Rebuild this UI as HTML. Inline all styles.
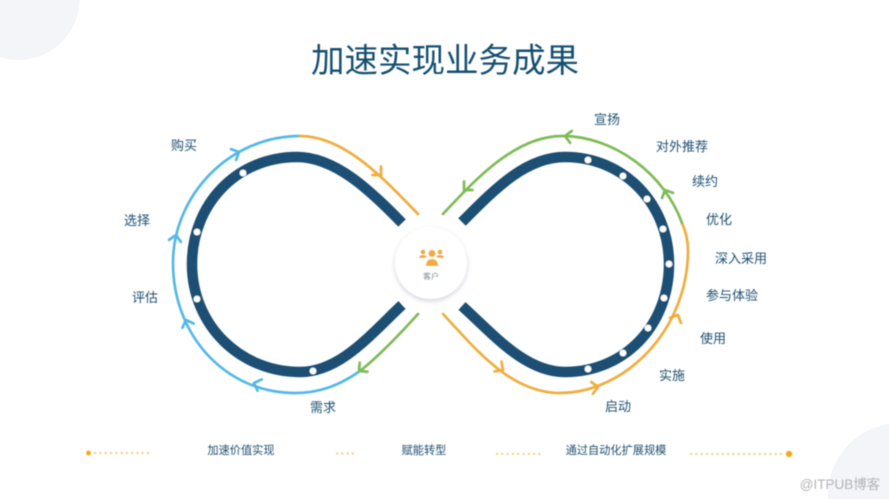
<!DOCTYPE html>
<html><head><meta charset="utf-8">
<style>
html,body{margin:0;padding:0;background:#fff;width:889px;height:499px;overflow:hidden}
svg{display:block;overflow:hidden}
text{font-family:"Liberation Sans","Noto Sans CJK SC",sans-serif;text-anchor:middle}
.l{font-size:13px;fill:#1f4f70}
.b{font-size:11.2px;fill:#24506f}
</style></head>
<body>
<svg width="889" height="499" viewBox="0 0 889 499" xmlns="http://www.w3.org/2000/svg">
<defs>
<filter id="s" x="-30%" y="-30%" width="160%" height="160%"><feDropShadow dx="0" dy="2" stdDeviation="2.5" flood-color="#8f8fb0" flood-opacity=".42"/></filter>
<filter id="soft" x="0" y="0" width="100%" height="100%"><feGaussianBlur stdDeviation="0.5"/></filter>
</defs>
<rect width="889" height="499" fill="#fff"/>
<path d="M0,0 H80 A62,62 0 0 1 0,57.300 Z" fill="#f3f5f9"/>
<path d="M889,423.850 A72,72 0 0 0 828.100,499 H889 Z" fill="#f3f5f9"/>
<g filter="url(#soft)">
<text x="445" y="72" style="font-size:33.500px;fill:#17506f">加速实现业务成果</text>

<g fill="none" stroke="#1c4f73" stroke-width="10.500">
<path d="M402,223 C370,190 335,157 297,157 C236,157 192,205 192,264 C192,325 240,372 300,372 C340,372 370,335 402,305"/>
<path d="M462,222 C494,190 525,157 565,157 C625,157 669,205 669,264 C669,325 625,372 565,372 C525,372 494,335 462,306"/>
</g>
<g fill="#fff">
<circle cx="243" cy="173" r="3.400"/><circle cx="197" cy="232" r="3.400"/><circle cx="197" cy="299" r="3.400"/><circle cx="313" cy="371" r="3.400"/>
<circle cx="588" cy="160" r="3.400"/><circle cx="623" cy="176" r="3.400"/><circle cx="647" cy="199" r="3.400"/><circle cx="663" cy="229" r="3.400"/><circle cx="669" cy="264" r="3.400"/><circle cx="664" cy="298" r="3.400"/><circle cx="648" cy="328" r="3.400"/><circle cx="623" cy="353" r="3.400"/><circle cx="588" cy="369" r="3.400"/>
</g>

<g fill="none" stroke-width="2.700" stroke-linecap="round" stroke-linejoin="round">
<g stroke="#55b8e6">
<path d="M360,371 C340,385 320,393 295,393 C225,393 173,335 173,263 C173,195 230,136 300,136"/>
<path d="M-6,-6 L0,0 L-6,6" transform="translate(239,152) rotate(-25)"/>
<path d="M-6,-6 L0,0 L-6,6" transform="translate(176,235) rotate(-80)"/>
<path d="M-6,-6 L0,0 L-6,6" transform="translate(186,320) rotate(-110)"/>
<path d="M-6,-6 L0,0 L-6,6" transform="translate(254,383) rotate(200)"/>
</g>
<g stroke="#f0ad3e">
<path d="M300,136 C345,136 385,180 418,214"/>
<path d="M-6,-6 L0,0 L-6,6" transform="translate(381,175) rotate(45)"/>
<path d="M443,314 C475,348 510,393 560,393 C625,393 688,330 688,250 C688,240 686,232 682,223"/>
<path d="M-6,-6 L0,0 L-6,6" transform="translate(503,370) rotate(35)"/>
<path d="M-6,-6 L0,0 L-6,6" transform="translate(598,387) rotate(-8)"/>
<path d="M-6,-6 L0,0 L-6,6" transform="translate(678,315) rotate(-65)"/>
</g>
<g stroke="#7fbb56">
<path d="M418,314 C400,334 380,355 360,371"/>
<path d="M-6,-6 L0,0 L-6,6" transform="translate(359,371) rotate(140)"/>
<path d="M443,214 C475,180 515,136 562,136 C615,136 665,175 682,223"/>
<path d="M-6,-6 L0,0 L-6,6" transform="translate(464,190) rotate(135)"/>
<path d="M-6,-6 L0,0 L-6,6" transform="translate(565,136) rotate(188)"/>
<path d="M-6,-6 L0,0 L-6,6" transform="translate(665,190) rotate(-115)"/>
</g>
</g>

<circle cx="431" cy="263" r="36" fill="#fff" filter="url(#s)"/>
<g fill="#f0ad3e">
<circle cx="432" cy="253.500" r="3.600"/>
<path d="M426,266 Q426,259 432,259 Q438,259 438,266 Z"/>
<circle cx="423" cy="252" r="2.400"/>
<path d="M419,258 Q419,255 423,255 Q426,255 427,257 Q424,258 424,258 Z"/>
<circle cx="440" cy="252" r="2.400"/>
<path d="M444,258 Q444,255 440,255 Q437,255 436,257 Q439,258 439,258 Z"/>
</g>
<text x="431" y="279" style="font-size:8px;fill:#5a6f80">客户</text>

<text class="l" x="184" y="150">购买</text>
<text class="l" x="137" y="225">选择</text>
<text class="l" x="145" y="302">评估</text>
<text class="l" x="323" y="412">需求</text>
<text class="l" x="607" y="124">宣扬</text>
<text class="l" x="682" y="151">对外推荐</text>
<text class="l" x="705" y="186">续约</text>
<text class="l" x="719" y="224">优化</text>
<text class="l" x="741" y="263">深入采用</text>
<text class="l" x="732" y="300">参与体验</text>
<text class="l" x="713" y="343">使用</text>
<text class="l" x="672" y="380">实施</text>
<text class="l" x="618" y="411">启动</text>

<text class="b" x="241" y="454">加速价值实现</text>
<text class="b" x="424" y="454">赋能转型</text>
<text class="b" x="616" y="454">通过自动化扩展规模</text>

<g fill="none" stroke="#f9c77f" stroke-width="2.200" stroke-linecap="round" stroke-dasharray="0 5.300">
<path d="M95,453 H148"/>
<path d="M337,453.500 H353"/>
<path d="M497,454 H541"/>
<path d="M691,454 H784"/>
</g>
<circle cx="88.500" cy="453" r="2.500" fill="#f7a823"/>
<circle cx="789" cy="454" r="3.200" fill="#f7a823"/>
<text x="840" y="489" style="font-size:13.500px;fill:#b4b4b4">@ITPUB博客</text>
</g>
</svg>
</body></html>
